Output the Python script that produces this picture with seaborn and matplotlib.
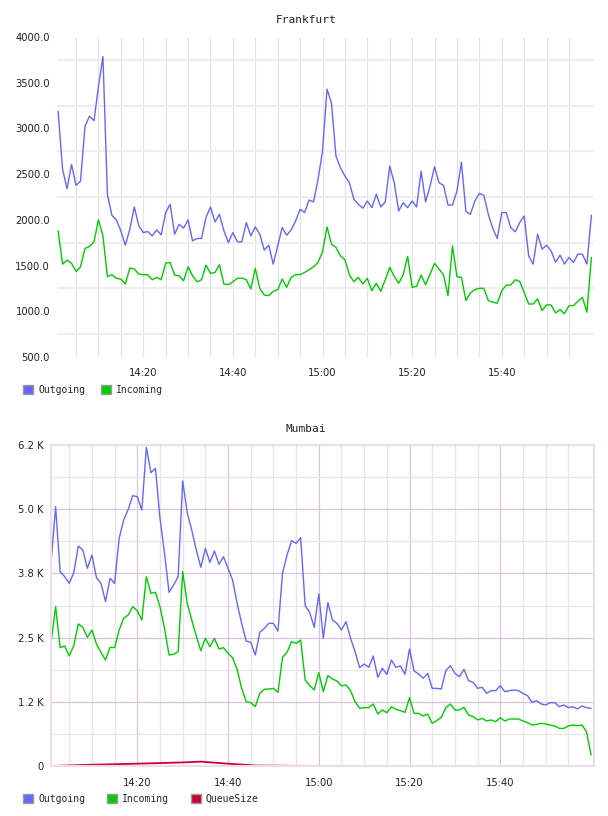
#!/usr/bin/env python3
# -*- coding: utf-8 -*-
"""Traffic graphs for Frankfurt and Mumbai (outgoing / incoming / queue)."""

import numpy as np
import pandas as pd
import seaborn as sns
import matplotlib.pyplot as plt
import matplotlib.dates as mdates
from matplotlib.patches import Patch
from matplotlib.ticker import FuncFormatter

# %% Data (one sample per minute, starting 14:01)

str_day = '2024-01-01 '
str_start = str_day + '14:01'

fra_outgoing = [3187, 2551, 2341, 2606, 2377, 2424, 3024, 3133, 3085, 3459,
                3786, 2279, 2050, 1999, 1880, 1723, 1898, 2141, 1934, 1861,
                1872, 1825, 1890, 1836, 2080, 2170, 1843, 1952, 1909, 1999,
                1771, 1796, 1796, 2025, 2141, 1977, 2061, 1880, 1752, 1861,
                1760, 1760, 1970, 1825, 1923, 1843, 1669, 1723, 1516, 1716,
                1916, 1832, 1890, 1988, 2116, 2080, 2217, 2196, 2443,
                2751, 3430, 3278, 2697, 2570, 2479, 2406, 2225, 2170, 2127,
                2206, 2134, 2279, 2141, 2196, 2588, 2406, 2098, 2188, 2134,
                2206, 2141, 2533, 2196, 2370, 2581, 2406, 2377, 2163, 2163,
                2315, 2631, 2091, 2061, 2206, 2290, 2268, 2061, 1905, 1796,
                2080, 2080, 1916, 1869, 1970, 2043, 1607, 1516, 1843, 1680,
                1723, 1662, 1535, 1614, 1516, 1589, 1535, 1625, 1625, 1516,
                2050]

fra_incoming = [1880, 1516, 1560, 1524, 1436, 1487, 1687, 1709, 1760, 2000,
                1825, 1378, 1400, 1360, 1353, 1298, 1473, 1462, 1407, 1400,
                1400, 1345, 1371, 1345, 1527, 1534, 1396, 1389, 1334, 1487,
                1389, 1323, 1345, 1505, 1414, 1425, 1509, 1298, 1291, 1323,
                1360, 1364, 1345, 1244, 1469, 1251, 1178, 1171, 1218, 1237,
                1353, 1262, 1371, 1400, 1400, 1425, 1455, 1487, 1534,
                1650, 1923, 1734, 1698, 1607, 1564, 1400, 1323, 1371, 1298,
                1360, 1226, 1306, 1218, 1345, 1480, 1382, 1306, 1400, 1600,
                1262, 1273, 1396, 1291, 1407, 1524, 1462, 1400, 1171, 1716,
                1378, 1371, 1117, 1200, 1237, 1251, 1251, 1117, 1099, 1088,
                1226, 1287, 1287, 1345, 1327, 1207, 1080, 1080, 1135, 1008,
                1070, 1070, 982, 1019, 972, 1062, 1062, 1110, 1153, 990,
                1589]

mum_outgoing = [3959, 5049, 3784, 3686, 3557, 3764, 4283, 4206, 3849, 4108,
                3667, 3557, 3200, 3654, 3557, 4433, 4790, 4997, 5263, 5244,
                4984, 6204, 5711, 5796, 4822, 4141, 3381, 3524, 3686, 5549,
                4932, 4595, 4206, 3868, 4238, 3965, 4186, 3926, 4076, 3849,
                3621, 3167, 2778, 2434, 2408, 2161, 2602, 2680, 2778, 2778,
                2628, 3751, 4108, 4387, 4335, 4446, 3122, 2985, 2700,
                3349, 2486, 3180, 2843, 2778, 2648, 2810, 2486, 2226, 1915,
                1986, 1921, 2142, 1726, 1902, 1785, 2064, 1921, 1947, 1785,
                2278, 1850, 1791, 1707, 1804, 1512, 1512, 1499, 1856, 1953,
                1804, 1739, 1882, 1661, 1629, 1512, 1532, 1415, 1467, 1467,
                1564, 1447, 1467, 1480, 1467, 1415, 1369, 1240, 1272, 1207,
                1188, 1233, 1233, 1155, 1188, 1136, 1155, 1110, 1168, 1136,
                1123]

mum_incoming = [2401, 3102, 2304, 2336, 2142, 2343, 2765, 2700, 2505, 2648,
                2375, 2213, 2064, 2310, 2304, 2648, 2875, 2940, 3102, 3024,
                2843, 3686, 3362, 3381, 3102, 2680, 2161, 2174, 2226, 3784,
                3167, 2843, 2531, 2245, 2486, 2323, 2486, 2278, 2304, 2194,
                2109, 1882, 1512, 1253, 1233, 1155, 1415, 1493, 1499, 1512,
                1434, 2116, 2213, 2421, 2388, 2453, 1674, 1564, 1480,
                1817, 1447, 1759, 1694, 1655, 1558, 1577, 1467, 1253, 1123,
                1136, 1136, 1207, 1012, 1090, 1038, 1155, 1103, 1077, 1045,
                1330, 1025, 1025, 974, 1012, 831, 883, 948, 1136, 1207,
                1090, 1090, 1142, 993, 961, 896, 928, 876, 896, 863,
                941, 876, 915, 915, 915, 876, 844, 798, 811, 831,
                818, 798, 779, 733, 733, 779, 798, 785, 798, 668,
                214]

# queue size is only sampled sparsely
mum_queue_times = ['14:01', '14:10', '14:20', '14:30', '14:34', '14:40',
                   '14:46', '14:55', '15:10', '15:30', '16:00']
mum_queue = [0, 25, 45, 70, 85, 45, 10, 3, 2, 1, 0]

# x tick labels and grid positions
lst_major_times = ['14:20', '14:40', '15:00', '15:20', '15:40']
lst_minor_times = ['14:05', '14:10', '14:15', '14:25', '14:30', '14:35',
                   '14:45', '14:50', '14:55', '15:05', '15:10', '15:15',
                   '15:25', '15:30', '15:35', '15:45', '15:50', '15:55']

# Set colors
dct_colors = {'Outgoing': '#6666ff', 'Incoming': '#00cc00',
              'QueueSize': '#cc0033'}

# %% Build data frames

ary_time = pd.date_range(str_start, periods=len(fra_outgoing), freq='min')
df_fra = pd.DataFrame({'time': ary_time, 'Outgoing': fra_outgoing,
                       'Incoming': fra_incoming})
df_fra = df_fra.melt(id_vars='time', var_name='series', value_name='value')

df_mum = pd.DataFrame({'time': ary_time, 'Outgoing': mum_outgoing,
                       'Incoming': mum_incoming})
df_mum = df_mum.melt(id_vars='time', var_name='series', value_name='value')

df_que = pd.DataFrame({'time': pd.to_datetime([str_day + t for t in mum_queue_times]),
                       'value': mum_queue})

ary_major = pd.to_datetime([str_day + t for t in lst_major_times])
ary_minor = pd.to_datetime([str_day + t for t in lst_minor_times])

# %% Plot

sns.set_style('white')
plt.rcParams['font.family'] = ['DejaVu Sans']
str_mono = 'DejaVu Sans Mono'
clr_txt = '#222222'

fig = plt.figure(figsize=(6.08, 8.16), dpi=100)
W, H = 608.0, 816.0
ax1 = fig.add_axes([57 / W, 1 - 357 / H, 537 / W, 320 / H])
ax2 = fig.add_axes([50.7 / W, 1 - 766 / H, 543 / W, 321 / H])

# --- Frankfurt
sns.lineplot(data=df_fra, x='time', y='value', hue='series',
             palette=dct_colors, estimator=None, linewidth=1.0,
             legend=False, ax=ax1)
ax1.set_xlim(pd.Timestamp(str_day + '14:00:45'),
             pd.Timestamp(str_day + '16:00:35'))
ax1.set_ylim(500, 4000)
ax1.set_yticks(np.arange(500, 4001, 500))
ax1.set_yticks(np.arange(750, 3751, 500), minor=True)
ax1.yaxis.set_major_formatter(FuncFormatter(lambda v, p: '%.1f' % v))
ax1.set_xticks(ary_major)
ax1.set_xticks(ary_minor, minor=True)
ax1.xaxis.set_major_formatter(mdates.DateFormatter('%H:%M'))
ax1.grid(False)
ax1.yaxis.grid(True, which='minor', color='#eeeeee', linewidth=1.6)
ax1.xaxis.grid(True, which='both', color='#e2e2e2', linewidth=0.8)
for sp in ax1.spines.values():
    sp.set_visible(False)
ax1.set_axisbelow(True)
ax1.tick_params(which='both', length=0, labelsize=7.2, colors=clr_txt)
ax1.tick_params(axis='y', pad=5)
ax1.tick_params(axis='x', pad=8)
ax1.set_xlabel('')
ax1.set_ylabel('')
ax1.legend(handles=[Patch(facecolor=dct_colors[k], edgecolor='#999999',
                          label=k) for k in ['Outgoing', 'Incoming']],
           loc='upper left', bbox_to_anchor=(23 / W, 1 - 385 / H),
           bbox_transform=fig.transFigure, ncol=2, frameon=False,
           prop={'family': str_mono, 'size': 7}, handlelength=1.05,
           handleheight=1.05, handletextpad=0.5, columnspacing=1.6,
           borderpad=0, borderaxespad=0)
fig.text(306 / W, 1 - 20 / H, 'Frankfurt', ha='center', va='center',
         family=str_mono, size=8, color=clr_txt)

# --- Mumbai
clr_major = '#dcc4dc'
clr_minor = '#e6e6e6'
sns.lineplot(data=df_mum, x='time', y='value', hue='series',
             palette=dct_colors, estimator=None, linewidth=1.0,
             legend=False, ax=ax2)
sns.lineplot(data=df_que, x='time', y='value', color=dct_colors['QueueSize'],
             estimator=None, linewidth=1.3, clip_on=False, ax=ax2)
ax2.set_xlim(pd.Timestamp(str_day + '14:00:55'),
             pd.Timestamp(str_day + '16:00:35'))
ax2.set_ylim(0, 6250)
ax2.set_yticks(np.arange(0, 6251, 1250))
ax2.set_yticks(np.arange(625, 6250, 1250), minor=True)
ax2.yaxis.set_major_formatter(
    FuncFormatter(lambda v, p: '0' if v == 0 else '%.1f K' % (v / 1000)))
ax2.set_xticks(ary_major)
ax2.set_xticks(ary_minor, minor=True)
ax2.xaxis.set_major_formatter(mdates.DateFormatter('%H:%M'))
ax2.grid(False)
ax2.grid(True, which='major', color=clr_major, linewidth=0.9)
ax2.grid(True, which='minor', color=clr_minor, linewidth=0.9)
for sp in ax2.spines.values():
    sp.set_color('#ecdcec')
    sp.set_linewidth(1.5)
ax2.set_axisbelow(True)
ax2.tick_params(which='both', length=0, labelsize=7.2, colors=clr_txt)
ax2.tick_params(axis='y', pad=5)
ax2.tick_params(axis='x', pad=9)
ax2.set_xlabel('')
ax2.set_ylabel('')
ax2.legend(handles=[Patch(facecolor=dct_colors[k], edgecolor='#999999',
                          label=k) for k in ['Outgoing', 'Incoming',
                                             'QueueSize']],
           loc='upper left', bbox_to_anchor=(23 / W, 1 - 794 / H),
           bbox_transform=fig.transFigure, ncol=3, frameon=False,
           prop={'family': str_mono, 'size': 7}, handlelength=1.05,
           handleheight=1.05, handletextpad=0.5, columnspacing=2.25,
           borderpad=0, borderaxespad=0)
fig.text(306 / W, 1 - 429 / H, 'Mumbai', ha='center', va='center',
         family=str_mono, size=8, color=clr_txt)

fig.savefig('out.png', dpi=100, facecolor='white')
